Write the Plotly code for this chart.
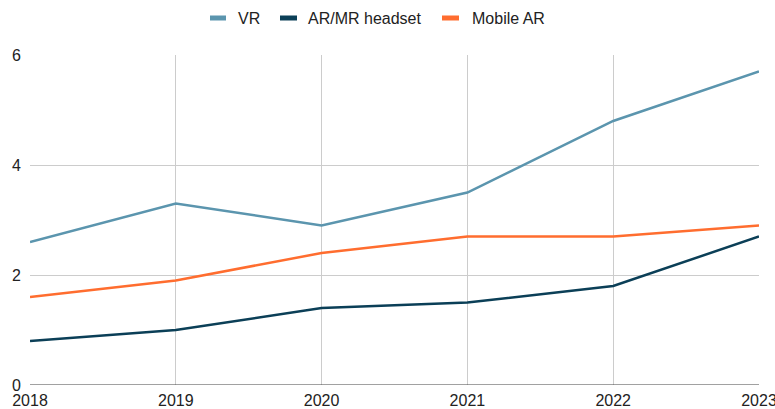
import plotly.graph_objects as go

years = [2018, 2019, 2020, 2021, 2022, 2023]
vr = [2.6, 3.3, 2.9, 3.5, 4.8, 5.7]
ar_mr = [0.8, 1.0, 1.4, 1.5, 1.8, 2.7]
mobile_ar = [1.6, 1.9, 2.4, 2.7, 2.7, 2.9]

names = ["VR", "AR/MR headset", "Mobile AR"]
colors = ["#5b95ae", "#0b3f57", "#ff6d2f"]
values = [vr, ar_mr, mobile_ar]

L, R, T, B = 30, 16, 55, 24
W, H = 775, 409
pw, ph = W - L - R, H - T - B

fig = go.Figure()
for name, vals, col in zip(names, values, colors):
    fig.add_trace(go.Scatter(x=years, y=vals, name=name, mode="lines",
                             line=dict(color=col, width=2.5), showlegend=False,
                             hoverinfo="skip"))

fig.update_layout(
    width=W, height=H,
    margin=dict(l=L, r=R, t=T, b=B, autoexpand=False),
    paper_bgcolor="white", plot_bgcolor="white",
    font=dict(family="Liberation Sans, Arial, sans-serif", size=16, color="#222222"),
    showlegend=False,
    xaxis=dict(range=[2018, 2023], tickvals=years, ticktext=[str(y) for y in years],
               showgrid=True, gridcolor="#cccccc", gridwidth=1, zeroline=False,
               showline=False, ticks="", automargin=False, ticklabeloverflow="allow",
               ticklabelstandoff=4, tickfont=dict(size=16)),
    yaxis=dict(range=[0, 6], tickvals=[0, 2, 4, 6], showgrid=True, gridcolor="#cccccc",
               gridwidth=1, zeroline=False, showline=False, ticks="", automargin=False,
               ticklabelstandoff=8, tickfont=dict(size=16)),
)
fig.add_shape(type="line", xref="paper", yref="y", x0=0, x1=1, y0=0, y1=0,
              line=dict(color="#444444", width=1.2))

# manual legend (pixel positions converted to paper coords)
swatch_px = [(210, 226), (280, 297), (442, 459)]
text_px = [236, 306, 470]
leg_y = (H - B - 18) / ph
for name, col, (s0, s1), tx in zip(names, colors, swatch_px, text_px):
    fig.add_shape(type="line", xref="paper", yref="paper",
                  x0=(s0 - L) / pw, x1=(s1 - L) / pw, y0=leg_y, y1=leg_y,
                  line=dict(color=col, width=5))
    fig.add_annotation(text=name, xref="paper", yref="paper", x=(tx - L) / pw, y=leg_y,
                       xanchor="left", yanchor="middle", showarrow=False,
                       font=dict(size=16, color="#222222"))

fig.write_html("out.html", config={"displayModeBar": False})

with open("out.html", encoding="utf-8") as f:
    html = f.read()
html = html.replace("<body>", "<body style=\"margin:0;padding:0;\">", 1)
with open("out.html", "w", encoding="utf-8") as f:
    f.write(html)
